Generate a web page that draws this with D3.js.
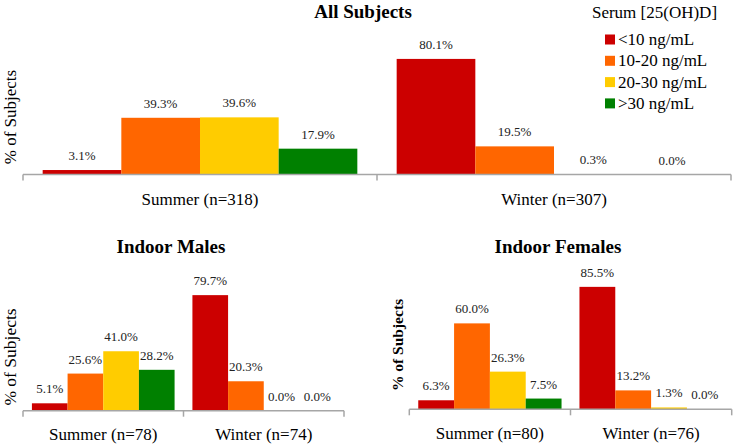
<!DOCTYPE html>
<html>
<head>
<meta charset="utf-8">
<script src="https://cdn.jsdelivr.net/npm/d3@7"></script>
<style>
  html, body { margin: 0; padding: 0; background: #fff; }
  svg { display: block; }
  text { font-family: "Liberation Serif", "Times New Roman", serif; fill: #000; }
</style>
</head>
<body>
<svg id="chart" width="737" height="447"></svg>
<script>
// ---- Data ----
const levels = ["<10 ng/mL", "10-20 ng/mL", "20-30 ng/mL", ">30 ng/mL"];
const levelColors = ["#CC0000", "#FF6600", "#FFCC00", "#008000"];
const legendTitle = "Serum [25(OH)D]";

const allGroups = ["Summer (n=318)", "Winter (n=307)"];
const allSummer = [3.1, 39.3, 39.6, 17.9];
const allWinter = [80.1, 19.5, 0.3, 0.0];

const malesGroups = ["Summer (n=78)", "Winter (n=74)"];
const malesSummer = [5.1, 25.6, 41.0, 28.2];
const malesWinter = [79.7, 20.3, 0.0, 0.0];

const femalesGroups = ["Summer (n=80)", "Winter (n=76)"];
const femalesSummer = [6.3, 60.0, 26.3, 7.5];
const femalesWinter = [85.5, 13.2, 1.3, 0.0];

const yLabel = "% of Subjects";

// ---- Drawing ----
const svg = d3.select("#chart");

function drawPanel(cfg) {
  const g = svg.append("g");
  const x0 = d3.scaleBand().domain(cfg.groups).range([cfg.x0, cfg.x1]).padding(0);
  const x1 = d3.scaleBand().domain(levels).range([0, x0.bandwidth()])
    .paddingInner(0).paddingOuter(0.25);
  const y = d3.scaleLinear().domain([0, 100]).range([cfg.base, cfg.base - cfg.h100]);
  const series = [cfg.summer, cfg.winter];

  const data = [];
  cfg.groups.forEach((grp, gi) => {
    levels.forEach((lv, li) => data.push({grp, lv, li, v: series[gi][li]}));
  });

  g.selectAll("rect.bar").data(data).enter().append("rect")
    .attr("class", "bar")
    .attr("x", d => x0(d.grp) + x1(d.lv))
    .attr("width", x1.bandwidth())
    .attr("y", d => y(d.v))
    .attr("height", d => y(0) - y(d.v))
    .attr("fill", d => levelColors[d.li]);

  g.selectAll("text.val").data(data).enter().append("text")
    .attr("class", "val")
    .attr("x", d => x0(d.grp) + x1(d.lv) + x1.bandwidth() / 2)
    .attr("y", d => y(d.v) - 10)
    .attr("text-anchor", "middle")
    .style("font-size", "13px")
    .style("fill", "#222")
    .text(d => d.v.toFixed(1) + "%");

  // axis
  const axis = d3.axisBottom(x0).tickSize(0).tickPadding(0);
  const ag = g.append("g").attr("transform", `translate(0,${cfg.base})`).call(axis);
  ag.select(".domain").remove();
  ag.selectAll(".tick text").remove();
  ag.append("line").attr("x1", cfg.x0).attr("x2", cfg.x1).attr("y1", 0).attr("y2", 0)
    .attr("stroke", "#A6A6A6").attr("stroke-width", 1.5);
  const bounds = [cfg.x0, x0(cfg.groups[1]), cfg.x1];
  ag.selectAll("line.tk").data(bounds).enter().append("line").attr("class", "tk")
    .attr("x1", d => d).attr("x2", d => d).attr("y1", 0).attr("y2", 6)
    .attr("stroke", "#A6A6A6").attr("stroke-width", 1.5);

  g.selectAll("text.cat").data(cfg.groups).enter().append("text")
    .attr("class", "cat")
    .attr("x", d => x0(d) + x0.bandwidth() / 2)
    .attr("y", cfg.catY)
    .attr("text-anchor", "middle")
    .style("font-size", "17px")
    .text(d => d);

  g.append("text")
    .attr("transform", `translate(${cfg.ylx},${cfg.yly}) rotate(-90)`)
    .attr("text-anchor", "middle")
    .style("font-size", cfg.ylSize)
    .style("font-weight", cfg.ylBold ? "bold" : "normal")
    .text(yLabel);

  g.append("text")
    .attr("x", cfg.tx).attr("y", cfg.ty)
    .attr("text-anchor", "middle")
    .style("font-size", "19px")
    .style("font-weight", "bold")
    .text(cfg.title);
}

drawPanel({
  title: "All Subjects", tx: 363, ty: 18,
  groups: allGroups, summer: allSummer, winter: allWinter,
  x0: 23, x1: 731, base: 174.5, h100: 144.3, catY: 205,
  ylx: 16, yly: 117, ylSize: "17px", ylBold: false
});
drawPanel({
  title: "Indoor Males", tx: 171, ty: 253,
  groups: malesGroups, summer: malesSummer, winter: malesWinter,
  x0: 23, x1: 344, base: 410.7, h100: 145, catY: 440,
  ylx: 16, yly: 357, ylSize: "17.5px", ylBold: false
});
drawPanel({
  title: "Indoor Females", tx: 558, ty: 253,
  groups: femalesGroups, summer: femalesSummer, winter: femalesWinter,
  x0: 409.3, x1: 731.7, base: 409.3, h100: 143.2, catY: 439,
  ylx: 403, yly: 345, ylSize: "15.5px", ylBold: true
});

// legend
const lg = svg.append("g");
lg.append("text").attr("x", 654.5).attr("y", 18).attr("text-anchor", "middle")
  .style("font-size", "17px").text(legendTitle);
const items = lg.selectAll("g.item").data(levels).enter().append("g")
  .attr("class", "item")
  .attr("transform", (d, i) => `translate(605,${39.5 + i * 21.3})`);
items.append("rect").attr("x", 0).attr("y", -5).attr("width", 10).attr("height", 10)
  .attr("fill", (d, i) => levelColors[i]);
items.append("text").attr("x", 13).attr("y", 5.5).style("font-size", "17px").text(d => d);
</script>
</body>
</html>
